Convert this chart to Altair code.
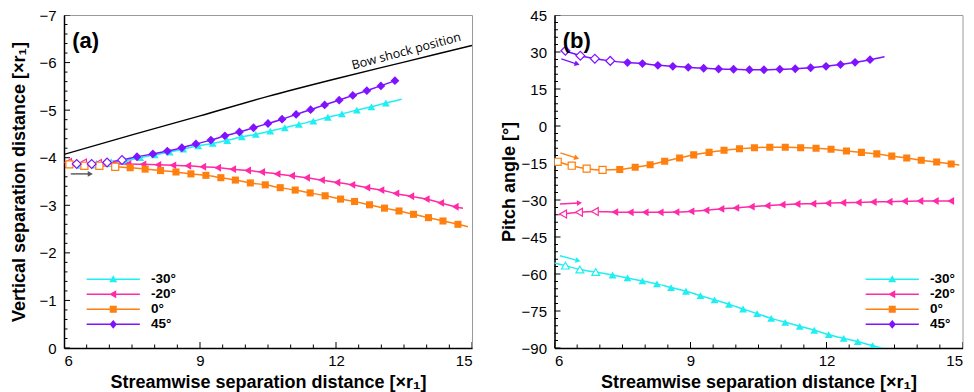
import math

import altair as alt
import numpy as np
import pandas as pd

# ---------------------------------------------------------------- series
SERIES = ["-30°", "-20°", "0°", "45°"]
COLORS = {"-30°": "#1FEFF2", "-20°": "#FF2AA6", "0°": "#FF7F0F", "45°": "#7F12FF"}
MARKERS = {"-30°": "triangle-up", "-20°": "triangle-left", "0°": "square", "45°": "diamond"}

# legend glyphs: a short line with the marker drawn on it (unit coordinates)
LINE_GLYPH = "M-7.6,-0.22H7.6V0.22H-7.6Z"
LEGEND_GLYPHS = {
    "-30°": LINE_GLYPH + "M0,-1.15L1.15,0.85L-1.15,0.85Z",
    "-20°": LINE_GLYPH + "M-1.15,0L0.85,-1.15L0.85,1.15Z",
    "0°": LINE_GLYPH + "M-1,-1H1V1H-1Z",
    "45°": LINE_GLYPH + "M0,-1.25L1.05,0L0,1.25L-1.05,0Z",
}

# style codes: o = open marker, f = filled marker, - = line only

# ---- (a) vertical separation distance
A_CYAN_X = [6.10, 6.40, 6.72, 7.04, 7.36, 7.68, 8.00, 8.33, 8.63, 8.96, 9.28, 9.60,
            9.92, 10.23, 10.55, 10.87, 11.18, 11.50, 11.82, 12.13, 12.46, 12.78, 13.10, 13.45]
A_CYAN_Y = [-3.84, -3.85, -3.86, -3.89, -3.94, -4.00, -4.06, -4.12, -4.18, -4.25, -4.30, -4.36,
            -4.44, -4.49, -4.56, -4.63, -4.70, -4.77, -4.85, -4.92, -5.00, -5.07, -5.15, -5.23]
A_CYAN_S = "-ooo" + "f" * 19 + "-"

A_MAG_X = [6.09, 6.42, 6.75, 7.08, 7.41, 7.74, 8.07, 8.40, 8.73, 9.06, 9.39, 9.72, 10.05, 10.36,
           10.70, 11.02, 11.35, 11.68, 12.02, 12.35, 12.68, 12.99, 13.32, 13.65, 13.99, 14.31, 14.63, 14.80]
A_MAG_Y = [-3.90, -3.89, -3.88, -3.87, -3.87, -3.86, -3.85, -3.84, -3.83, -3.81, -3.79, -3.76, -3.73, -3.70,
           -3.66, -3.62, -3.58, -3.53, -3.48, -3.43, -3.37, -3.32, -3.25, -3.19, -3.13, -3.05, -2.97, -2.94]
A_MAG_S = "ooo" + "f" * 24 + "-"

A_ORG_X = [6.12, 6.45, 6.78, 7.13, 7.46, 7.79, 8.13, 8.47, 8.80, 9.13, 9.46, 9.78, 10.11, 10.44,
           10.77, 11.10, 11.43, 11.76, 12.10, 12.41, 12.74, 13.07, 13.39, 13.71, 14.04, 14.36, 14.69, 14.91]
A_ORG_Y = [-3.86, -3.83, -3.83, -3.81, -3.79, -3.76, -3.73, -3.70, -3.66, -3.63, -3.58, -3.53, -3.47, -3.43,
           -3.37, -3.32, -3.26, -3.20, -3.13, -3.08, -3.01, -2.94, -2.88, -2.81, -2.74, -2.67, -2.60, -2.55]
A_ORG_S = "oooo" + "f" * 23 + "-"

A_PUR_X = [6.28, 6.61, 6.95, 7.28, 7.61, 7.96, 8.28, 8.60, 8.91, 9.24, 9.55, 9.87,
           10.18, 10.50, 10.81, 11.12, 11.44, 11.75, 12.07, 12.37, 12.68, 12.99, 13.30]
A_PUR_Y = [-3.87, -3.87, -3.90, -3.95, -4.02, -4.08, -4.14, -4.21, -4.29, -4.37, -4.46, -4.54,
           -4.63, -4.72, -4.81, -4.91, -5.01, -5.11, -5.21, -5.31, -5.41, -5.51, -5.62]
A_PUR_S = "oooo" + "f" * 19

BOW_X = [6.0, 7.5, 9.0, 10.5, 12.0, 13.5, 15.0]
BOW_Y = [-4.07, -4.48, -4.88, -5.29, -5.66, -6.01, -6.36]

# ---- (b) pitch angle
B_CYAN_X = [5.98, 6.24, 6.56, 6.91, 7.28, 7.61, 7.94, 8.26, 8.57, 8.90, 9.22, 9.53,
            9.85, 10.16, 10.47, 10.78, 11.09, 11.41, 11.73, 12.05, 12.38, 12.69, 13.02, 13.34]
B_CYAN_Y = [-55.5, -56.6, -58.2, -59.2, -60.4, -61.6, -62.8, -64.0, -65.5, -67.0, -68.8, -70.5,
            -72.3, -74.2, -76.1, -78.0, -79.6, -81.2, -82.8, -84.6, -86.1, -87.4, -89.1, -90.6]
B_CYAN_S = "-ooo" + "f" * 19 + "-"

B_MAG_X = [6.08, 6.19, 6.54, 6.89, 7.33, 7.67, 8.00, 8.33, 8.68, 9.01, 9.34, 9.67, 10.00, 10.34,
           10.69, 11.02, 11.35, 11.70, 12.03, 12.36, 12.70, 13.03, 13.38, 13.72, 14.06, 14.40, 14.74]
B_MAG_Y = [-36.0, -35.7, -35.0, -34.7, -34.9, -35.0, -35.0, -35.0, -34.9, -34.6, -34.2, -33.6, -33.2, -32.7,
           -32.3, -31.9, -31.6, -31.5, -31.3, -31.1, -31.0, -30.8, -30.7, -30.5, -30.4, -30.4, -30.4]
B_MAG_S = "-ooo" + "f" * 23

B_ORG_X = [6.07, 6.38, 6.71, 7.06, 7.44, 7.78, 8.11, 8.43, 8.76, 9.07, 9.41, 9.74, 10.08, 10.41,
           10.75, 11.09, 11.43, 11.77, 12.10, 12.44, 12.77, 13.11, 13.44, 13.77, 14.09, 14.43, 14.75, 14.93]
B_ORG_Y = [-14.5, -16.1, -17.3, -17.8, -17.6, -16.7, -15.7, -14.3, -13.0, -11.7, -10.7, -9.8, -9.2, -8.8,
           -8.6, -8.6, -8.8, -9.0, -9.4, -10.1, -10.7, -11.3, -12.2, -13.0, -13.9, -14.6, -15.4, -15.8]
B_ORG_S = "oooo" + "f" * 23 + "-"

B_PUR_X = [6.24, 6.57, 6.89, 7.23, 7.61, 7.94, 8.28, 8.61, 8.95, 9.29, 9.62, 9.95,
           10.30, 10.62, 10.97, 11.31, 11.65, 11.99, 12.31, 12.63, 12.96, 13.28]
B_PUR_Y = [30.5, 28.5, 27.3, 26.4, 25.7, 25.3, 24.6, 24.2, 23.8, 23.4, 23.1, 23.0,
           22.8, 22.8, 23.0, 23.2, 23.6, 24.2, 24.9, 25.8, 26.9, 28.1]
B_PUR_S = "oooo" + "f" * 17 + "-"

# direction-of-motion arrows: (colour key, x0, y0, x1, y1)
A_ARROWS = [("gray", 6.15, -3.66, 6.58, -3.66)]
B_ARROWS = [("45°", 6.15, 27.2, 6.50, 25.1),
            ("0°", 6.13, -10.9, 6.49, -13.0),
            ("-20°", 6.12, -31.6, 6.55, -31.2),
            ("-30°", 6.12, -52.6, 6.52, -54.6)]

# ---------------------------------------------------------------- layout
W, H = 408, 333
X_DOMAIN = [6, 15]
X_MAJOR = [6, 9, 12, 15]
X_MINOR = [float(v) for v in np.arange(6.5, 15, 0.5) if v not in X_MAJOR]
XTITLE = "Streamwise separation distance [×r₁]"
FONT = "Liberation Sans"


def frame(xs, ys, styles, name):
    return pd.DataFrame({"x": xs, "y": ys, "style": list(styles), "series": name})


def panel(curves, ydom, yrev, ytitle, ymajor, yminor, arrows, tag, tag_xy,
          legend_xy, extra=()):
    xs = alt.Scale(domain=X_DOMAIN, nice=False, zero=False)
    ys = alt.Scale(domain=ydom, reverse=yrev, nice=False, zero=False)
    yspan = (ydom[1] - ydom[0]) * (-1 if yrev else 1)
    ybottom = ydom[1] if yrev else ydom[0]

    def X(field="x"):
        return alt.X(f"{field}:Q", scale=xs, axis=None)

    def Y(field="y"):
        return alt.Y(f"{field}:Q", scale=ys, axis=None)

    layers = []

    # frame layer carrying the axes (labels and titles only)
    fdf = pd.DataFrame({"x": X_DOMAIN, "y": [ybottom, ybottom]})
    layers.append(
        alt.Chart(fdf).mark_line(opacity=0).encode(
            x=alt.X("x:Q", scale=xs, title=XTITLE,
                    axis=alt.Axis(values=X_MAJOR, ticks=False, labelPadding=5,
                                  labelOverlap=False, domainWidth=1.5, titleY=39.5,
                                  titleBaseline="alphabetic")),
            y=alt.Y("y:Q", scale=ys, title=ytitle,
                    axis=alt.Axis(values=ymajor, ticks=False, labelPadding=8,
                                  labelOverlap=False, domainWidth=1.5, titleX=-45,
                                  titleBaseline="middle")),
        )
    )

    for layer_extra in extra:
        layers.append(layer_extra(X, Y))

    # tick marks pointing into the plot: centred on the frame, outer half clipped
    for xv, yv, length in ((X_MAJOR, ymajor, 6), (X_MINOR, yminor, 3.5)):
        kw = dict(color="black", thickness=1, size=2 * length, opacity=1, clip=True)
        xt = pd.DataFrame({"x": xv, "y": [ybottom] * len(xv)})
        yt = pd.DataFrame({"x": [X_DOMAIN[0]] * len(yv), "y": yv})
        layers.append(alt.Chart(xt).mark_tick(orient="vertical", **kw).encode(x=X(), y=Y()))
        layers.append(alt.Chart(yt).mark_tick(orient="horizontal", **kw).encode(x=X(), y=Y()))

    for name, df in curves:
        layers.append(
            alt.Chart(df).mark_line(color=COLORS[name], strokeWidth=1.5,
                                    interpolate="monotone", clip=True)
            .encode(x=X(), y=Y())
        )

    for name, df in curves:
        size = {"square": 50, "diamond": 78}.get(MARKERS[name], 62)
        layers.append(
            alt.Chart(df[df["style"] == "o"]).mark_point(
                shape=MARKERS[name], size=size, filled=True, fill="white",
                stroke=COLORS[name], strokeWidth=1.2, opacity=1, clip=True)
            .encode(x=X(), y=Y())
        )
        layers.append(
            alt.Chart(df[df["style"] == "f"]).mark_point(
                shape=MARKERS[name], size=size, filled=True, color=COLORS[name],
                opacity=1, clip=True)
            .encode(x=X(), y=Y())
        )

    # arrows showing the initial direction of travel
    for key, x0, y0, x1, y1 in arrows:
        col = "#555555" if key == "gray" else COLORS[key]
        dpx = (x1 - x0) * W / (X_DOMAIN[1] - X_DOMAIN[0])
        dpy = -(y1 - y0) * H / yspan
        heading = math.degrees(math.atan2(dpy, dpx)) % 360
        adf = pd.DataFrame({"x": [x0], "y": [y0], "x2": [x1], "y2": [y1]})
        layers.append(
            alt.Chart(adf).mark_rule(color=col, strokeWidth=1.4)
            .encode(x=X(), y=Y(), x2="x2:Q", y2="y2:Q")
        )
        layers.append(
            alt.Chart(adf).mark_point(shape="triangle-right", size=34, filled=True,
                                      color=col, opacity=1, angle=heading)
            .encode(x=X("x2"), y=Y("y2"))
        )

    # panel tag
    tdf = pd.DataFrame({"x": [tag_xy[0]], "y": [tag_xy[1]], "t": [tag]})
    layers.append(
        alt.Chart(tdf).mark_text(font=FONT, fontSize=22, fontWeight="bold", align="left",
                                 baseline="middle", color="black")
        .encode(x=X(), y=Y(), text="t:N")
    )

    # legend (no marks drawn, only the legend of the colour/shape scales)
    leg = alt.Legend(orient="none", legendX=legend_xy[0], legendY=legend_xy[1], title=None,
                     symbolSize=49, symbolStrokeWidth=0, symbolOpacity=1,
                     labelFont=FONT, labelFontSize=13.5, labelFontWeight="bold",
                     labelColor="black", labelOffset=31, rowPadding=0, padding=0)
    ldf = pd.DataFrame({"series": SERIES, "x": [0.0] * 4, "y": [0.0] * 4})
    layers.append(
        alt.Chart(ldf).transform_filter("datum.x > 100")
        .mark_point(filled=True, opacity=1)
        .encode(
            x=X(), y=Y(),
            color=alt.Color("series:N", legend=leg,
                            scale=alt.Scale(domain=SERIES, range=[COLORS[s] for s in SERIES])),
            shape=alt.Shape("series:N", legend=leg,
                            scale=alt.Scale(domain=SERIES, range=[LEGEND_GLYPHS[s] for s in SERIES])),
        )
    )

    return (alt.layer(*layers)
            .resolve_axis(x="independent", y="independent")
            .properties(width=W, height=H))


# ---- panel (a)
a_curves = [
    ("-30°", frame(A_CYAN_X, A_CYAN_Y, A_CYAN_S, "-30°")),
    ("-20°", frame(A_MAG_X, A_MAG_Y, A_MAG_S, "-20°")),
    ("0°", frame(A_ORG_X, A_ORG_Y, A_ORG_S, "0°")),
    ("45°", frame(A_PUR_X, A_PUR_Y, A_PUR_S, "45°")),
]


def bow_line(X, Y):
    bdf = pd.DataFrame({"x": BOW_X, "y": BOW_Y})
    return alt.Chart(bdf).mark_line(color="black", strokeWidth=1.4, interpolate="monotone",
                                    clip=True).encode(x=X(), y=Y())


def bow_label(X, Y):
    ldf = pd.DataFrame({"x": [13.55], "y": [-6.24], "t": ["Bow shock position"]})
    return alt.Chart(ldf).mark_text(font="Open Sans", fontSize=12.5, angle=345,
                                    color="black").encode(x=X(), y=Y(), text="t:N")


A_Y_MAJOR = [-7, -6, -5, -4, -3, -2, -1, 0]
A_Y_MINOR = [round(float(v), 1) for v in np.arange(-7, 0.001, 0.2) if abs(v - round(v)) > 1e-6]

panel_a = panel(a_curves, [-7, 0], True, "Vertical separation distance [×r₁]",
                A_Y_MAJOR, A_Y_MINOR, A_ARROWS, "(a)", (6.18, -6.45), (42.5, 257.5),
                extra=(bow_line, bow_label))

# ---- panel (b)
b_curves = [
    ("-30°", frame(B_CYAN_X, B_CYAN_Y, B_CYAN_S, "-30°")),
    ("-20°", frame(B_MAG_X, B_MAG_Y, B_MAG_S, "-20°")),
    ("0°", frame(B_ORG_X, B_ORG_Y, B_ORG_S, "0°")),
    ("45°", frame(B_PUR_X, B_PUR_Y, B_PUR_S, "45°")),
]
B_Y_MAJOR = [45, 30, 15, 0, -15, -30, -45, -60, -75, -90]
B_Y_MINOR = [float(v) for v in np.arange(-90, 45.001, 3) if v % 15 != 0]

panel_b = panel(b_curves, [-90, 45], False, "Pitch angle [°]",
                B_Y_MAJOR, B_Y_MINOR, B_ARROWS, "(b)", (6.18, 34.5), (331, 257.5))

chart = (
    alt.hconcat(panel_a, panel_b, spacing=26.5)
    .resolve_scale(color="independent", shape="independent")
    .properties(padding={"left": 9, "top": 7, "right": 2, "bottom": 0})
    .configure_axis(grid=False, labelFont=FONT, labelFontSize=15, labelColor="black",
                    titleFont=FONT, titleFontSize=18, titleFontWeight="bold",
                    titleColor="black", tickColor="black", domainColor="black")
    .configure_view(stroke="#9a9a9a", strokeWidth=1)
)

chart.save("out.html", embed_options={"renderer": "svg", "actions": False})
